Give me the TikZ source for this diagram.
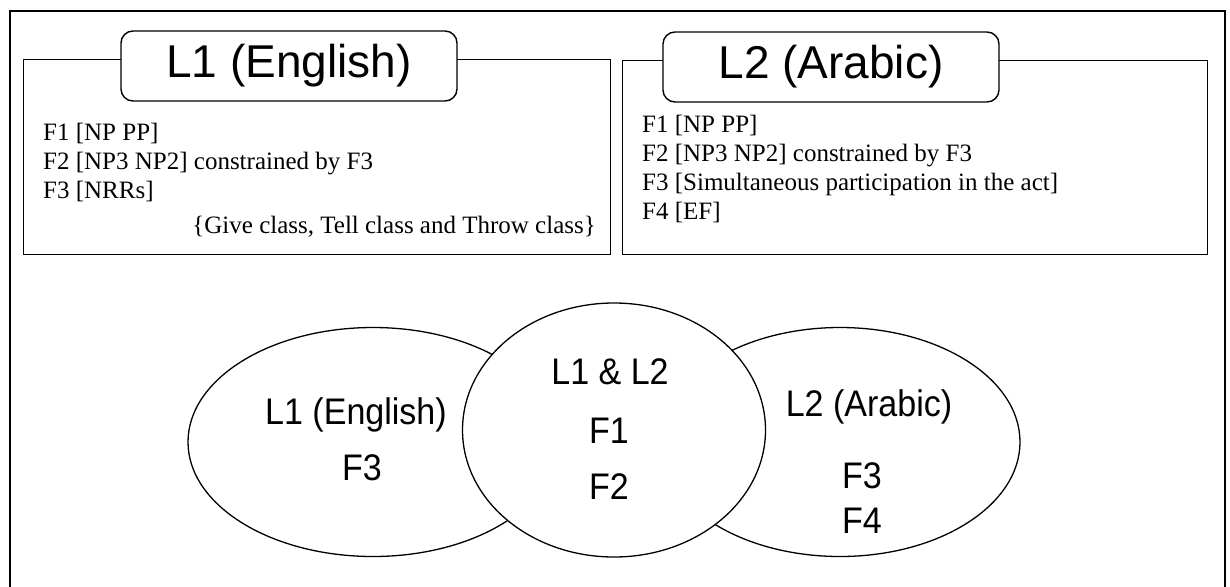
\documentclass[tikz,border=0pt]{standalone}
\usepackage{fontspec}
\setmainfont{Liberation Serif}
\newfontfamily\headfont{Liberation Sans}
\newfontfamily\vennfont{Liberation Sans}[FakeStretch=0.92]
\usetikzlibrary{shapes.geometric}

\begin{document}
\begin{tikzpicture}[
    x=1pt, y=-1pt,
    frame/.style={line width=2.2pt},
    panel/.style={draw, line width=1.4pt, anchor=north west, inner sep=0pt},
    tab/.style={draw, fill=white, rounded corners=12pt, line width=1.4pt,
                minimum width=336pt, minimum height=70pt,
                font=\headfont\fontsize{46}{52}\selectfont},
    note/.style={align=left, inner sep=0pt, anchor=north west,
                 font=\fontsize{25}{29}\selectfont},
    blob/.style={draw, ellipse, line width=1.3pt, inner sep=0pt},
    vlabel/.style={anchor=base, inner sep=0pt,
                   font=\vennfont\fontsize{37}{42}\selectfont}
]
    \useasboundingbox (0,0) rectangle (1230,586);
    \draw[frame] (10,590) -- (10,11) -- (1225,11) -- (1225,590);

    % L1 panel
    \node[panel, minimum width=587pt, minimum height=195pt] (l1box) at (23,59) {};
    \node[tab] (l1tab) at (289,66) {L1 (English)};
    \node[note] (l1list) at (43,123)
        {F1 [NP PP]\\
         F2 [NP3 NP2] constrained by F3\\
         F3 [NRRs]};
    \node[note, anchor=base east] (l1cls) at (596,233)
        {\{Give class, Tell class and Throw class\}};

    % L2 panel
    \node[panel, minimum width=585pt, minimum height=194pt] (l2box) at (622,60) {};
    \node[tab] (l2tab) at (831,67) {L2 (Arabic)};
    \node[note] (l2list) at (642,115)
        {F1 [NP PP]\\
         F2 [NP3 NP2] constrained by F3\\
         F3 [Simultaneous participation in the act]\\
         F4 [EF]};

    % overlap of the two
    \node[blob, minimum width=370pt, minimum height=229pt] (engset) at (373,442) {};
    \node[blob, minimum width=360pt, minimum height=229pt] (arbset) at (840,442) {};
    \node[blob, fill=white, minimum width=303pt, minimum height=254pt] (bothset) at (614,430) {};

    \node[vlabel] (engname) at (356,424) {L1 (English)};
    \node[vlabel] (engf3) at (362,480) {F3};
    \node[vlabel] (bothname) at (610,384) {L1 \& L2};
    \node[vlabel] (bothf1) at (609,443) {F1};
    \node[vlabel] (bothf2) at (609,499) {F2};
    \node[vlabel] (arbname) at (869,416) {L2 (Arabic)};
    \node[vlabel] (arbf3) at (862,488) {F3};
    \node[vlabel] (arbf4) at (862,533) {F4};
\end{tikzpicture}
\end{document}
